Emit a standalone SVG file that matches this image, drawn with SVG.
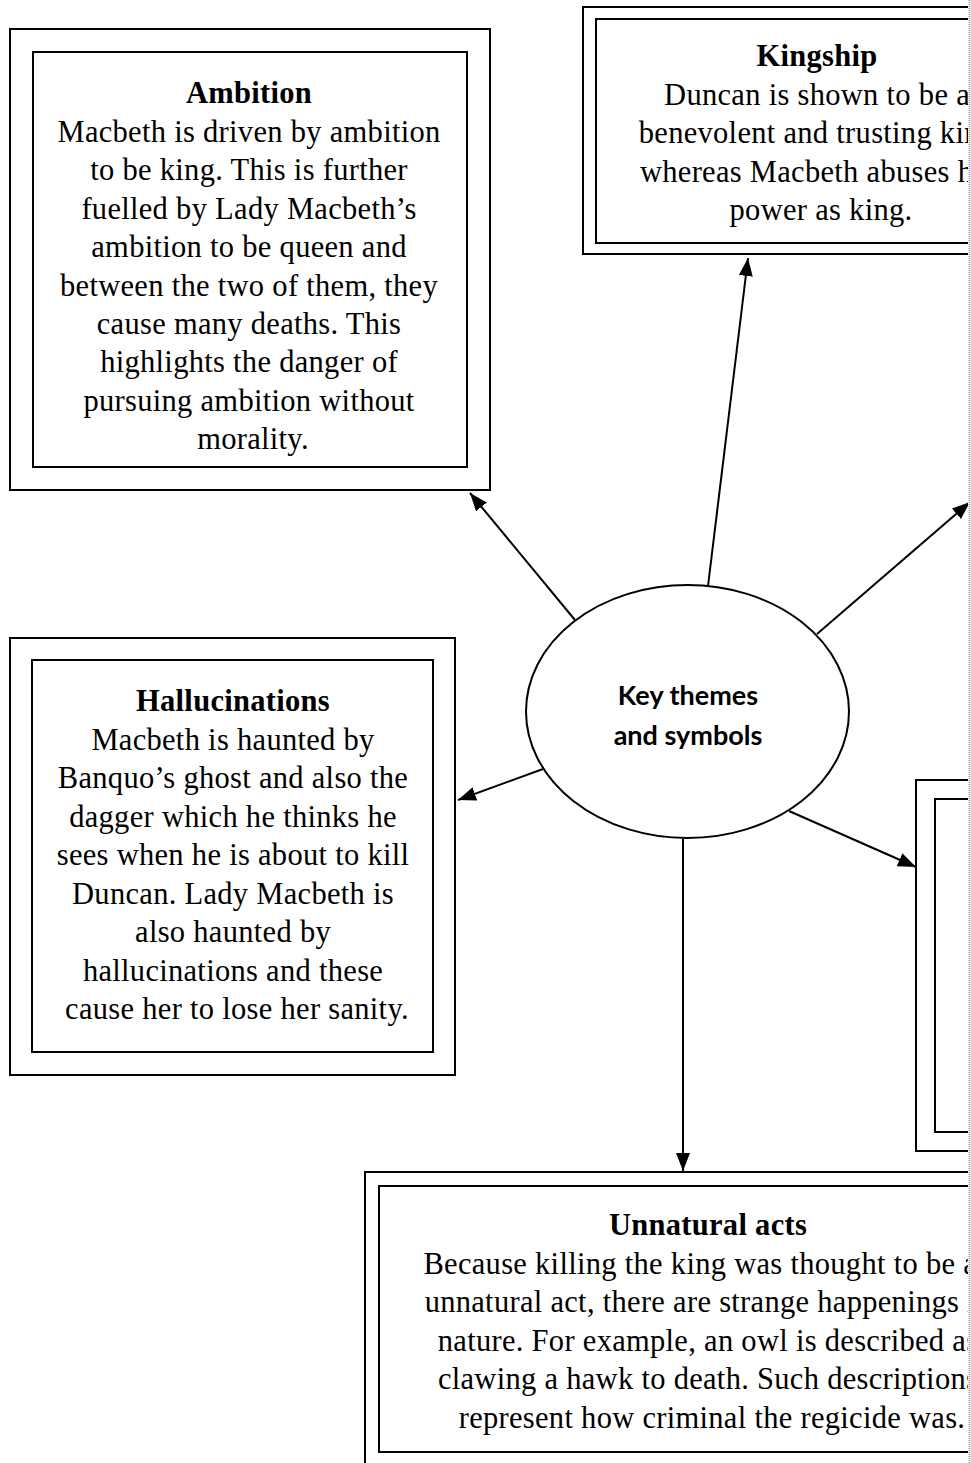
<svg xmlns="http://www.w3.org/2000/svg" width="971" height="1463" viewBox="0 0 971 1463">
<style>
.box{fill:none;stroke:#000;stroke-width:2}
.body{font-family:"Liberation Serif","Times New Roman",serif;font-size:30.5px;letter-spacing:0.3px;fill:#000;text-anchor:middle}
.title{font-weight:bold}
.conn{stroke:#000;stroke-width:2;fill:none;marker-end:url(#arr)}
.hub{font-family:Lato,"Open Sans",sans-serif;font-weight:bold;font-size:27px;text-anchor:middle;fill:#000}
</style>
<defs>
<marker id="arr" markerUnits="userSpaceOnUse" markerWidth="20" markerHeight="16" refX="18" refY="7" orient="auto">
<path d="M0,0 L18,7 L0,14 z" fill="#000"/>
</marker>
<clipPath id="page"><rect x="0" y="0" width="968" height="1463"/></clipPath>
</defs>
<rect width="971" height="1463" fill="#fff"/>
<g clip-path="url(#page)">
<g id="ambition">
<rect class="box" x="10" y="29" width="480" height="461"/>
<rect class="box" x="33" y="52" width="434" height="415"/>
<text class="body">
<tspan class="title" x="253" y="103">Ambition</tspan>
<tspan x="253" y="142">Macbeth is driven by ambition</tspan>
<tspan x="253" y="180">to be king. This is further</tspan>
<tspan x="253" y="219">fuelled by Lady Macbeth’s</tspan>
<tspan x="253" y="257">ambition to be queen and</tspan>
<tspan x="253" y="296">between the two of them, they</tspan>
<tspan x="253" y="334">cause many deaths. This</tspan>
<tspan x="253" y="372">highlights the danger of</tspan>
<tspan x="253" y="411">pursuing ambition without</tspan>
<tspan x="253" y="449">morality.</tspan>
</text>
</g>
<g id="kingship">
<rect class="box" x="583" y="7" width="476" height="247"/>
<rect class="box" x="596" y="19" width="450" height="224"/>
<text class="body">
<tspan class="title" x="821" y="66">Kingship</tspan>
<tspan x="821" y="105">Duncan is shown to be a</tspan>
<tspan x="821" y="143">benevolent and trusting king</tspan>
<tspan x="821" y="182">whereas Macbeth abuses his</tspan>
<tspan x="821" y="220">power as king.</tspan>
</text>
</g>
<g id="hallucinations">
<rect class="box" x="10" y="638" width="445" height="437"/>
<rect class="box" x="32" y="660" width="401" height="392"/>
<text class="body">
<tspan class="title" x="237" y="711">Hallucinations</tspan>
<tspan x="237" y="750">Macbeth is haunted by</tspan>
<tspan x="237" y="788">Banquo’s ghost and also the</tspan>
<tspan x="237" y="827">dagger which he thinks he</tspan>
<tspan x="237" y="865">sees when he is about to kill</tspan>
<tspan x="237" y="904">Duncan. Lady Macbeth is</tspan>
<tspan x="237" y="942">also haunted by</tspan>
<tspan x="237" y="981">hallucinations and these</tspan>
<tspan x="237" y="1019">cause her to lose her sanity.</tspan>
</text>
</g>
<g id="right-box">
<rect class="box" x="916" y="780" width="200" height="371"/>
<rect class="box" x="935" y="799" width="170" height="333"/>
</g>
<g id="unnatural">
<rect class="box" x="365" y="1172" width="700" height="320"/>
<rect class="box" x="379" y="1186" width="666" height="266"/>
<text class="body">
<tspan class="title" x="712" y="1235">Unnatural acts</tspan>
<tspan x="712" y="1274">Because killing the king was thought to be an</tspan>
<tspan x="712" y="1312">unnatural act, there are strange happenings in</tspan>
<tspan x="712" y="1351">nature. For example, an owl is described as</tspan>
<tspan x="712" y="1389">clawing a hawk to death. Such descriptions</tspan>
<tspan x="712" y="1428">represent how criminal the regicide was.</tspan>
</text>
</g>
<g id="connectors">
<line class="conn" x1="575" y1="620" x2="470" y2="493"/>
<line class="conn" x1="708" y1="586" x2="748" y2="258"/>
<line class="conn" x1="817" y1="634" x2="970" y2="502"/>
<line class="conn" x1="543" y1="769" x2="458" y2="800"/>
<line class="conn" x1="789" y1="811" x2="916" y2="867"/>
<line class="conn" x1="683" y1="839" x2="683" y2="1171"/>
</g>
<g id="hub">
<ellipse cx="687.5" cy="711.5" rx="161.5" ry="126.5" fill="#fff" stroke="#000" stroke-width="2"/>
<text class="hub"><tspan x="688" y="705">Key themes</tspan><tspan x="688" y="745">and symbols</tspan></text>
</g>
</g>
<line x1="969.5" y1="0" x2="969.5" y2="1463" stroke="#999" stroke-width="2" stroke-dasharray="1,1"/>
</svg>
